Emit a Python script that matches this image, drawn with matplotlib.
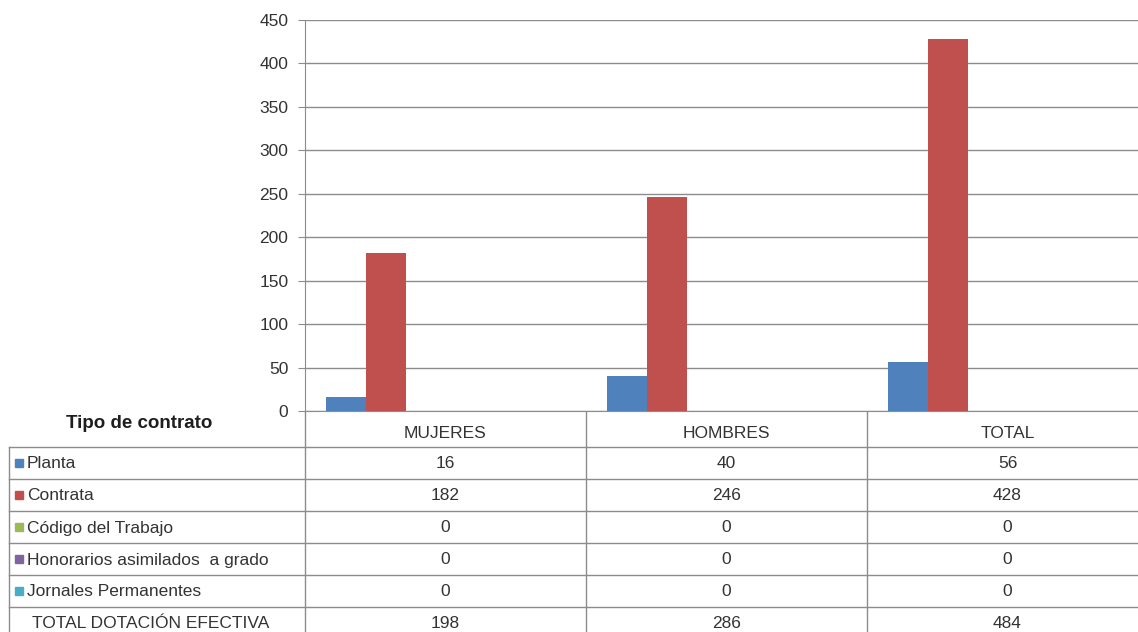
import numpy as np
import matplotlib.pyplot as plt

plt.rcParams['font.family'] = ['Liberation Sans', 'DejaVu Sans']

# data
categories = ["MUJERES", "HOMBRES", "TOTAL"]
series_names = ["Planta", "Contrata", "Código del Trabajo",
                "Honorarios asimilados  a grado", "Jornales Permanentes"]
planta = [16, 40, 56]
contrata = [182, 246, 428]
codigo = [0, 0, 0]
honorarios = [0, 0, 0]
jornales = [0, 0, 0]
total_row_name = "TOTAL DOTACIÓN EFECTIVA"
total_dotacion = [198, 286, 484]
yticks = [0, 50, 100, 150, 200, 250, 300, 350, 400, 450]

colors = ["#4F81BD", "#C0504D", "#9BBB59", "#8064A2", "#4BACC6"]
grid_c = "#8c8c8c"
text_c = "#333333"
fs = 12.5

W, H = 1138, 632
fig = plt.figure(figsize=(W / 100, H / 100), dpi=100)

# plot area in pixel terms (right edge runs past the crop)
x0, x1 = 305, 305 + 3 * 281
y_top, y_zero = 20, 411
ax = fig.add_axes([x0 / W, (H - y_zero) / H, (x1 - x0) / W, (y_zero - y_top) / H])

all_series = [planta, contrata, codigo, honorarios, jornales]
n_slots = 6  # the total row takes a slot too but is not drawn
bw = 40 / 281
xs = np.arange(len(categories))
for j, (vals, c) in enumerate(zip(all_series, colors)):
    ax.bar(xs + (j - (n_slots - 1) / 2) * bw, vals, width=bw,
           color=c, align="center", zorder=3)

ax.set_xlim(-0.5, 2.5)
ax.set_ylim(0, 450)
ax.set_yticks(yticks)
ax.set_yticklabels([str(v) for v in yticks], fontsize=fs, color=text_c)
ax.tick_params(axis="y", length=5, color=grid_c, pad=7)
ax.set_xticks([])
ax.grid(axis="y", color=grid_c, lw=1, zorder=0)
for s in ["top", "right"]:
    ax.spines[s].set_visible(False)
ax.spines["left"].set_color(grid_c)
ax.spines["bottom"].set_color(grid_c)

# table drawn in pixel coords over whole figure
tab = fig.add_axes([0, 0, 1, 1], zorder=-1)
tab.set_xlim(0, W)
tab.set_ylim(H, 0)
tab.axis("off")

col_edges = [x0 + i * 281 for i in range(4)]
header_bot = 447
row_h = 32
n_rows = len(series_names) + 1
row_lines = [header_bot + i * row_h for i in range(n_rows + 1)]

for y in row_lines:
    tab.plot([9, W + 20], [y, y], color=grid_c, lw=1)
for xe in col_edges:
    tab.plot([xe, xe], [y_zero, H + 10], color=grid_c, lw=1)
tab.plot([9, 9], [header_bot, H + 10], color=grid_c, lw=1)

tab.text(139, 423, "Tipo de contrato", fontsize=13.5, fontweight="bold",
         ha="center", va="center", color="#1e1e1e")
for i, cat in enumerate(categories):
    tab.text((col_edges[i] + col_edges[i + 1]) / 2, 434, cat, fontsize=fs,
             ha="center", va="center", color=text_c)

rows = all_series + [total_dotacion]
for r, (name, vals) in enumerate(zip(series_names + [total_row_name], rows)):
    yc = header_bot + r * row_h + row_h / 2 + 1
    if r < len(series_names):
        tab.add_patch(plt.Rectangle((15, yc - 5), 8, 8, color=colors[r]))
        tab.text(27, yc, name, fontsize=fs, ha="left", va="center", color=text_c)
    else:
        tab.text(32, yc, name, fontsize=fs, ha="left", va="center", color=text_c)
    for i, v in enumerate(vals):
        tab.text((col_edges[i] + col_edges[i + 1]) / 2, yc, str(v), fontsize=fs,
                 ha="center", va="center", color=text_c)

fig.savefig("out.png", dpi=100, facecolor="white")
